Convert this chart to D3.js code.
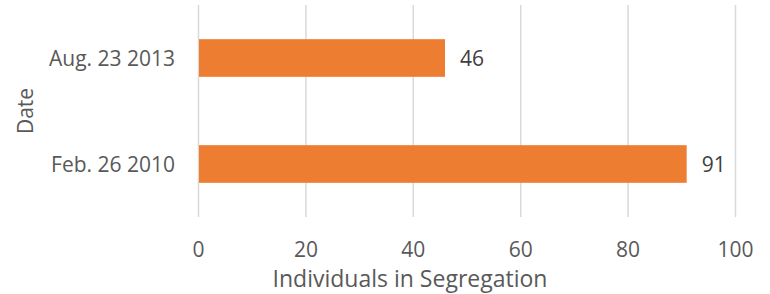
<!DOCTYPE html>
<html>
<head>
<meta charset="utf-8">
<script src="https://cdn.jsdelivr.net/npm/d3@7"></script>
<style>
  body { margin: 0; background: #fff; }
  text { font-family: "Open Sans", sans-serif; fill: #595959; }
</style>
</head>
<body>
<div id="chart"></div>
<script>
// Chart data
var dates = ["Aug. 23 2013", "Feb. 26 2010"];
var counts = [46, 91];
var xTicks = [0, 20, 40, 60, 80, 100];

var data = dates.map(function (d, i) {
  return { date: d, value: counts[i] };
});

var width = 770, height = 294;
var plot = { left: 198, right: 735, top: 5, bottom: 217 };

var svg = d3.select("#chart")
  .append("svg")
  .attr("width", width)
  .attr("height", height);

// Scales
var x = d3.scaleLinear().domain([0, 100]).range([plot.left, plot.right]);
var y = d3.scaleBand()
  .domain(dates)
  .range([plot.top, plot.bottom])
  .paddingInner(0.645)
  .paddingOuter(0.3225);

// Gridlines
svg.append("g")
  .selectAll("line")
  .data(xTicks)
  .enter()
  .append("line")
  .attr("x1", function (d) { return x(d) + 0.5; })
  .attr("x2", function (d) { return x(d) + 0.5; })
  .attr("y1", plot.top)
  .attr("y2", plot.bottom)
  .attr("stroke", "#d9d9d9")
  .attr("stroke-width", 1.5);

// X axis tick labels
var xAxis = svg.append("g")
  .attr("transform", "translate(0," + plot.bottom + ")")
  .call(d3.axisBottom(x).tickValues(xTicks).tickSize(0).tickPadding(0));
xAxis.select(".domain").remove();
xAxis.selectAll("text")
  .attr("y", 40)
  .attr("dy", 0)
  .style("font-size", "21px")
  .style("fill", "#595959");

// Y axis category labels
var yAxis = svg.append("g")
  .attr("transform", "translate(" + (plot.left - 23) + ",0)")
  .call(d3.axisLeft(y).tickSize(0).tickPadding(0));
yAxis.select(".domain").remove();
yAxis.selectAll("text")
  .attr("dy", "0.36em")
  .style("font-size", "21px")
  .style("fill", "#595959");

// Bars
svg.append("g")
  .selectAll("rect")
  .data(data)
  .enter()
  .append("rect")
  .attr("x", x(0) + 1)
  .attr("y", function (d) { return y(d.date); })
  .attr("width", function (d) { return x(d.value) - x(0) - 1; })
  .attr("height", y.bandwidth())
  .attr("fill", "#ed7d31");

// Value labels
svg.append("g")
  .selectAll("text")
  .data(data)
  .enter()
  .append("text")
  .attr("x", function (d) { return x(d.value) + 15; })
  .attr("y", function (d) { return y(d.date) + y.bandwidth() / 2; })
  .attr("dy", "0.36em")
  .style("font-size", "21px")
  .style("fill", "#404040")
  .text(function (d) { return d.value; });

// Axis titles
svg.append("text")
  .attr("x", 410)
  .attr("y", 287)
  .attr("text-anchor", "middle")
  .style("font-size", "23px")
  .text("Individuals in Segregation");

svg.append("text")
  .attr("transform", "translate(33," + ((plot.top + plot.bottom) / 2) + ") rotate(-90)")
  .attr("text-anchor", "middle")
  .style("font-size", "21px")
  .text("Date");
</script>
</body>
</html>
